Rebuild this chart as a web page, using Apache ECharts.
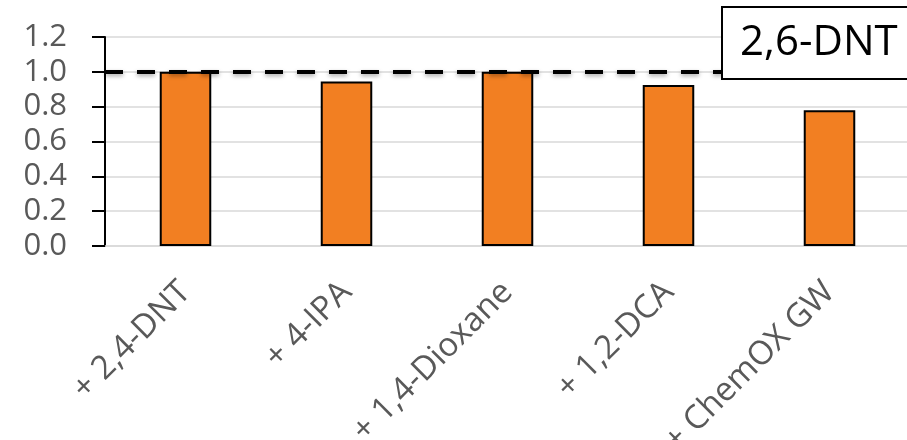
<!DOCTYPE html>
<html>
<head>
<meta charset="utf-8">
<script src="https://cdn.jsdelivr.net/npm/echarts@6/dist/echarts.min.js"></script>
<style>
  html, body { margin: 0; padding: 0; background: #ffffff; }
  #chart { width: 907px; height: 440px; }
</style>
</head>
<body>
<div id="chart"></div>
<script>
// Relative response of 2,6-DNT when co-present with other compounds
const categories = ['+ 2,4-DNT', '+ 4-IPA', '+ 1,4-Dioxane', '+ 1,2-DCA', '+ ChemOX GW'];
const ratios = [1.00, 0.945, 1.00, 0.925, 0.78];
const referenceLevel = 1.0;
const yTicks = { min: 0, max: 1.2, interval: 0.2 };
const panelTitle = '2,6-DNT';

const font = '"Open Sans", "Liberation Sans", sans-serif';
const chart = echarts.init(document.getElementById('chart'), null, { renderer: 'canvas' });

chart.setOption({
  animation: false,
  backgroundColor: '#ffffff',
  title: {
    text: panelTitle,
    left: 722,
    top: 7,
    padding: [12, 80, 12, 18],
    borderWidth: 2,
    borderColor: '#000000',
    backgroundColor: '#ffffff',
    textStyle: {
      fontFamily: font,
      fontSize: 42,
      fontWeight: 'normal',
      color: '#000000',
      lineHeight: 48
    },
    z: 10
  },
  grid: {
    left: 105,
    top: 37,
    bottom: 194,
    width: 805,
    containLabel: false,
    outerBoundsMode: 'none'
  },
  xAxis: {
    type: 'category',
    data: categories,
    axisLine: { show: true, lineStyle: { color: '#d9d9d9', width: 1.5 } },
    axisTick: { show: false },
    axisLabel: {
      rotate: 45,
      margin: 41,
      interval: 0,
      hideOverlap: false,
      fontFamily: font,
      fontSize: 33,
      color: '#595959'
    }
  },
  yAxis: {
    type: 'value',
    min: yTicks.min,
    max: yTicks.max,
    interval: yTicks.interval,
    axisLine: { show: true, lineStyle: { color: '#000000', width: 2 } },
    axisTick: { show: true, length: 13, lineStyle: { color: '#000000', width: 2 } },
    axisLabel: {
      margin: 38,
      fontFamily: font,
      fontSize: 31,
      color: '#595959',
      formatter: v => v.toFixed(1)
    },
    splitLine: { show: true, lineStyle: { color: '#d9d9d9', width: 1.5 } }
  },
  series: [{
    type: 'bar',
    data: ratios,
    barWidth: '32%',
    itemStyle: {
      color: '#f27f22',
      borderColor: '#000000',
      borderWidth: 2
    },
    markLine: {
      silent: true,
      symbol: ['none', 'none'],
      label: { show: false },
      lineStyle: {
        color: '#000000',
        width: 4,
        type: [18, 14],
        shadowColor: 'rgba(0,0,0,0.35)',
        shadowBlur: 4,
        shadowOffsetY: 2
      },
      data: [{ yAxis: referenceLevel }],
      z: 5
    }
  }]
});
</script>
</body>
</html>
